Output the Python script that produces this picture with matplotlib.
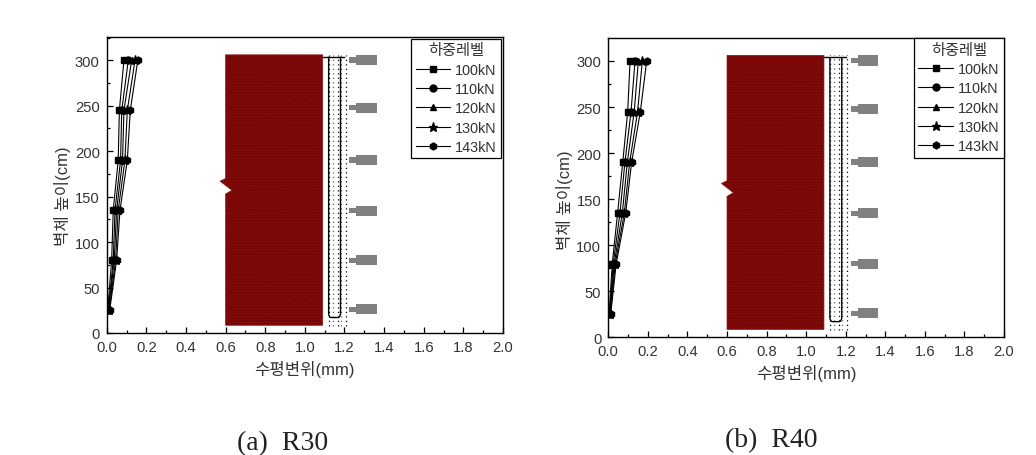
import numpy as np
from matplotlib import pyplot as plt
from matplotlib.patches import Polygon, Rectangle, PathPatch
from matplotlib.path import Path
from matplotlib.ticker import MultipleLocator

plt.rcParams["font.family"] = ["Liberation Sans", "Noto Sans CJK KR", "DejaVu Sans"]
plt.rcParams["hatch.linewidth"] = 0.4

# wall heights of the measuring points (cm)
heights = [25, 80, 135, 190, 245, 300]
load_labels = ["100kN", "110kN", "120kN", "130kN", "143kN"]
load_markers = ["s", "o", "^", "*", "h"]

# horizontal displacement (mm), one row per load level
r30_disp = [
    [0.005, 0.025, 0.033, 0.058, 0.064, 0.087],
    [0.008, 0.033, 0.042, 0.070, 0.076, 0.109],
    [0.010, 0.038, 0.050, 0.080, 0.087, 0.126],
    [0.012, 0.045, 0.058, 0.092, 0.104, 0.143],
    [0.015, 0.050, 0.067, 0.104, 0.119, 0.157],
]
r40_disp = [
    [0.004, 0.020, 0.047, 0.073, 0.098, 0.110],
    [0.006, 0.025, 0.059, 0.084, 0.115, 0.135],
    [0.008, 0.030, 0.071, 0.096, 0.131, 0.152],
    [0.010, 0.035, 0.081, 0.108, 0.148, 0.172],
    [0.012, 0.040, 0.088, 0.118, 0.162, 0.194],
]

# anchor bolt heights on the wall sketch (cm)
anchor_heights = [26, 80, 134.5, 190.5, 248, 300.5]

FIG_W, FIG_H = 1036, 456


def make_axes(left, right, top, bottom):
    return fig.add_axes([left / FIG_W, 1 - bottom / FIG_H,
                         (right - left) / FIG_W, (bottom - top) / FIG_H])


def draw_wall(ax):
    # concrete wall with the small crack notch on its left side
    outline = [(0.6, 8.5), (1.09, 8.5), (1.09, 306), (0.6, 306), (0.6, 170),
               (0.572, 167), (0.632, 157), (0.6, 153)]
    ax.add_patch(Polygon(outline, closed=True, facecolor="#7a0505",
                         edgecolor="#8a1a1a", hatch="......", linewidth=0.5, zorder=2))

    # dotted guide lines of the strengthening layer
    for x in [1.12, 1.14, 1.165, 1.18, 1.208]:
        color = "#666666" if x in (1.14, 1.18) else "black"
        ax.plot([x, x], [8, 306], color=color, linewidth=0.9,
                linestyle=(0, (1, 2.6)), zorder=3)

    # strengthening plate, open on top, rounded at the bottom
    verts = [(1.12, 304), (1.12, 22), (1.12, 17), (1.135, 17), (1.165, 17),
             (1.18, 17), (1.18, 22), (1.18, 304)]
    codes = [Path.MOVETO, Path.LINETO, Path.CURVE3, Path.CURVE3, Path.LINETO,
             Path.CURVE3, Path.CURVE3, Path.LINETO]
    ax.add_patch(PathPatch(Path(verts, codes), facecolor="none", edgecolor="black",
                           linewidth=1.0, zorder=4))
    ax.plot([1.09, 1.2], [304, 304], color="black", linewidth=1.0, zorder=4)

    # anchors
    for h in anchor_heights:
        ax.add_patch(Rectangle((1.225, h - 3), 0.035, 6, facecolor="#808080",
                               edgecolor="none", zorder=3))
        ax.add_patch(Rectangle((1.26, h - 5.5), 0.105, 11, facecolor="#808080",
                               edgecolor="none", zorder=3))


def draw_panel(ax, disp, ytop, label_y):
    for row, label, marker in zip(disp, load_labels, load_markers):
        ax.plot(row, heights, color="black", linewidth=0.8, marker=marker,
                markersize=5 if marker != "*" else 6.5, label=label, zorder=5)

    draw_wall(ax)

    ax.set_xlim(0, 2.0)
    ax.set_ylim(0, ytop)
    ax.xaxis.set_major_locator(MultipleLocator(0.2))
    ax.xaxis.set_minor_locator(MultipleLocator(0.1))
    ax.yaxis.set_major_locator(MultipleLocator(50))
    ax.yaxis.set_minor_locator(MultipleLocator(25))
    ax.tick_params(which="major", direction="in", length=4.2, width=0.9,
                   labelsize=10.6, pad=5, labelcolor="#333333")
    ax.tick_params(which="minor", direction="in", length=2.4, width=0.9)
    for spine in ax.spines.values():
        spine.set_linewidth(1.0)

    ax.set_xlabel("수평변위(mm)", fontsize=12, color="#333333", labelpad=4.5)
    ax.set_ylabel("벽체 높이(cm)", fontsize=12, color="#333333", labelpad=2.5, y=label_y)


fig = plt.figure(figsize=(FIG_W / 100, FIG_H / 100), dpi=100)

ax_a = make_axes(106.7, 503, 38, 334)
draw_panel(ax_a, r30_disp, 325.6, 0.466)
ax_b = make_axes(608.3, 1004, 39.3, 338.3)
draw_panel(ax_b, r40_disp, 324.6, 0.4625)

for ax, anchor in [(ax_a, (0.9955, 0.993)), (ax_b, (1.0, 1.0))]:
    leg = ax.legend(title="하중레벨", loc="upper right", bbox_to_anchor=anchor,
                    fontsize=10.4, title_fontsize=11, fancybox=False, framealpha=1,
                    edgecolor="black", borderaxespad=0, borderpad=0.3, labelspacing=0.37,
                    handlelength=2.4, handletextpad=0.35, labelcolor="#333333")
    leg.get_frame().set_linewidth(0.9)
    leg.get_title().set_color("#333333")
    leg.set_zorder(10)

fig.text(282.5 / FIG_W, 1 - 444 / FIG_H, "(a)  R30", family="Liberation Serif", fontsize=20,
         ha="center", va="center", color="#222222")
fig.text(771 / FIG_W, 1 - 441 / FIG_H, "(b)  R40", family="Liberation Serif", fontsize=20,
         ha="center", va="center", color="#222222")

fig.savefig("out.png", dpi=100)
